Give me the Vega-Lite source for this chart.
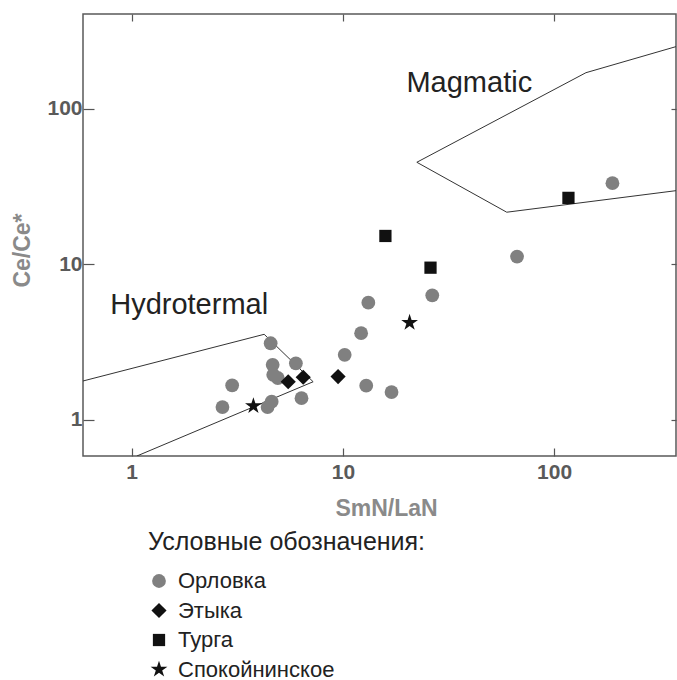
{
  "$schema": "https://vega.github.io/schema/vega-lite/v6.json",
  "width": 593,
  "height": 442,
  "autosize": "none",
  "padding": {"left": 83, "top": 14, "right": 1, "bottom": 224},
  "background": "white",
  "config": {
    "view": {"stroke": "#5a5a5a", "strokeWidth": 1.5},
    "font": "Liberation Sans",
    "legend": {
      "orient": "none",
      "legendX": 65,
      "legendY": 516,
      "padding": 0,
      "titleFont": "Liberation Sans",
      "titleFontSize": 25,
      "titleFontWeight": "normal",
      "titleColor": "#222",
      "titlePadding": 15,
      "titleLimit": 600,
      "labelFont": "Liberation Sans",
      "labelFontSize": 22,
      "labelColor": "#222",
      "labelOffset": 8,
      "labelLimit": 400,
      "rowPadding": 7.5,
      "symbolStrokeWidth": 0
    }
  },
  "datasets": {
    "samples": [
      {"group": "Орловка", "x": 2.69, "y": 1.21},
      {"group": "Орловка", "x": 2.99, "y": 1.67},
      {"group": "Орловка", "x": 4.55, "y": 3.11},
      {"group": "Орловка", "x": 5.99, "y": 2.31},
      {"group": "Орловка", "x": 4.65, "y": 2.26},
      {"group": "Орловка", "x": 4.68, "y": 1.95},
      {"group": "Орловка", "x": 4.92, "y": 1.86},
      {"group": "Орловка", "x": 6.37, "y": 1.38},
      {"group": "Орловка", "x": 4.6, "y": 1.31},
      {"group": "Орловка", "x": 4.4, "y": 1.21},
      {"group": "Орловка", "x": 10.2, "y": 2.62},
      {"group": "Орловка", "x": 12.2, "y": 3.61},
      {"group": "Орловка", "x": 13.2, "y": 5.67},
      {"group": "Орловка", "x": 12.9, "y": 1.66},
      {"group": "Орловка", "x": 17.0, "y": 1.51},
      {"group": "Орловка", "x": 26.5, "y": 6.32},
      {"group": "Орловка", "x": 66.8, "y": 11.2},
      {"group": "Орловка", "x": 189, "y": 33.2},
      {"group": "Этыка", "x": 5.51, "y": 1.76},
      {"group": "Этыка", "x": 6.49, "y": 1.88},
      {"group": "Этыка", "x": 9.49, "y": 1.9},
      {"group": "Турга", "x": 15.9, "y": 15.2},
      {"group": "Турга", "x": 26.0, "y": 9.51},
      {"group": "Турга", "x": 117, "y": 26.7},
      {"group": "Спокойнинское", "x": 3.77, "y": 1.23},
      {"group": "Спокойнинское", "x": 20.7, "y": 4.22}
    ],
    "fields": [
      {"field": "Hydrotermal", "i": 0, "x": 0.588, "y": 1.78},
      {"field": "Hydrotermal", "i": 1, "x": 4.24, "y": 3.55},
      {"field": "Hydrotermal", "i": 2, "x": 7.23, "y": 1.76},
      {"field": "Hydrotermal", "i": 3, "x": 1.058, "y": 0.587},
      {"field": "Magmatic", "i": 0, "x": 378, "y": 250},
      {"field": "Magmatic", "i": 1, "x": 141.6, "y": 170},
      {"field": "Magmatic", "i": 2, "x": 22.4, "y": 45.2},
      {"field": "Magmatic", "i": 3, "x": 59.7, "y": 21.6},
      {"field": "Magmatic", "i": 4, "x": 378, "y": 29.7}
    ],
    "labels": [
      {"label": "Magmatic", "x": 20, "y": 146.9},
      {"label": "Hydrotermal", "x": 0.791, "y": 5.48}
    ]
  },
  "layer": [
    {
      "data": {"name": "fields"},
      "mark": {"type": "line", "color": "#333", "strokeWidth": 1, "clip": true},
      "encoding": {
        "x": {
          "field": "x", "type": "quantitative",
          "scale": {"type": "log", "domain": [0.588, 378], "nice": false},
          "axis": {
            "orient": "bottom", "values": [1, 10, 100], "format": "d",
            "title": "SmN/LaN", "domain": false, "grid": false,
            "tickSize": -8, "tickColor": "#555", "tickWidth": 1.2,
            "labelFont": "Liberation Sans", "labelFontSize": 21, "labelFontWeight": "bold",
            "labelColor": "#5a5a5a", "labelPadding": 13, "labelFlush": false, "labelOverlap": false,
            "titleFont": "Liberation Sans", "titleFontSize": 23, "titleFontWeight": "bold",
            "titleColor": "#8a8a8a", "titleX": 303, "titleY": 52,
            "titleBaseline": "middle", "titleAlign": "center"
          }
        },
        "y": {
          "field": "y", "type": "quantitative",
          "scale": {"type": "log", "domain": [0.587, 405], "nice": false},
          "axis": {
            "orient": "left", "values": [1, 10, 100], "format": "d",
            "title": "Ce/Ce*", "domain": false, "grid": false,
            "tickSize": -11, "tickColor": "#555", "tickWidth": 1.2,
            "labelFont": "Liberation Sans", "labelFontSize": 21, "labelFontWeight": "bold",
            "labelColor": "#5a5a5a", "labelPadding": 12, "labelFlush": false, "labelOverlap": false,
            "titleFont": "Liberation Sans", "titleFontSize": 23, "titleFontWeight": "bold",
            "titleColor": "#8a8a8a", "titleX": -61, "titleY": 236, "titleAngle": 270,
            "titleBaseline": "middle", "titleAlign": "center"
          }
        },
        "detail": {"field": "field", "type": "nominal"},
        "order": {"field": "i", "type": "quantitative"}
      }
    },
    {
      "data": {"name": "samples"},
      "mark": {"type": "point", "filled": true, "opacity": 1, "clip": true},
      "encoding": {
        "x": {
          "field": "x", "type": "quantitative",
          "axis": {
            "orient": "top", "values": [1, 10, 100], "labels": false, "title": null,
            "domain": false, "grid": false, "tickSize": -7, "tickColor": "#555", "tickWidth": 1.2
          }
        },
        "y": {
          "field": "y", "type": "quantitative",
          "axis": {
            "orient": "right", "values": [1, 10, 100], "labels": false, "title": null,
            "domain": false, "grid": false, "tickSize": -5, "tickColor": "#555", "tickWidth": 1.2
          }
        },
        "shape": {
          "field": "group", "type": "nominal", "title": "Условные обозначения:",
          "scale": {
            "domain": ["Орловка", "Этыка", "Турга", "Спокойнинское"],
            "range": ["circle", "diamond", "square", "M0,-1L0.225,-0.309L0.951,-0.309L0.363,0.118L0.588,0.809L0,0.382L-0.588,0.809L-0.363,0.118L-0.951,-0.309L-0.225,-0.309Z"]
          }
        },
        "color": {
          "field": "group", "type": "nominal", "title": "Условные обозначения:",
          "scale": {
            "domain": ["Орловка", "Этыка", "Турга", "Спокойнинское"],
            "range": ["#808080", "#111111", "#111111", "#111111"]
          }
        },
        "size": {
          "field": "group", "type": "nominal", "title": "Условные обозначения:",
          "scale": {
            "type": "ordinal",
            "domain": ["Орловка", "Этыка", "Турга", "Спокойнинское"],
            "range": [190, 230, 150, 310]
          }
        }
      }
    },
    {
      "data": {"name": "labels"},
      "mark": {"type": "text", "align": "left", "baseline": "middle", "fontSize": 29, "color": "#222", "font": "Liberation Sans"},
      "encoding": {
        "x": {"field": "x", "type": "quantitative", "axis": null},
        "y": {"field": "y", "type": "quantitative", "axis": null},
        "text": {"field": "label"}
      }
    }
  ],
  "resolve": {"axis": {"x": "independent", "y": "independent"}}
}
